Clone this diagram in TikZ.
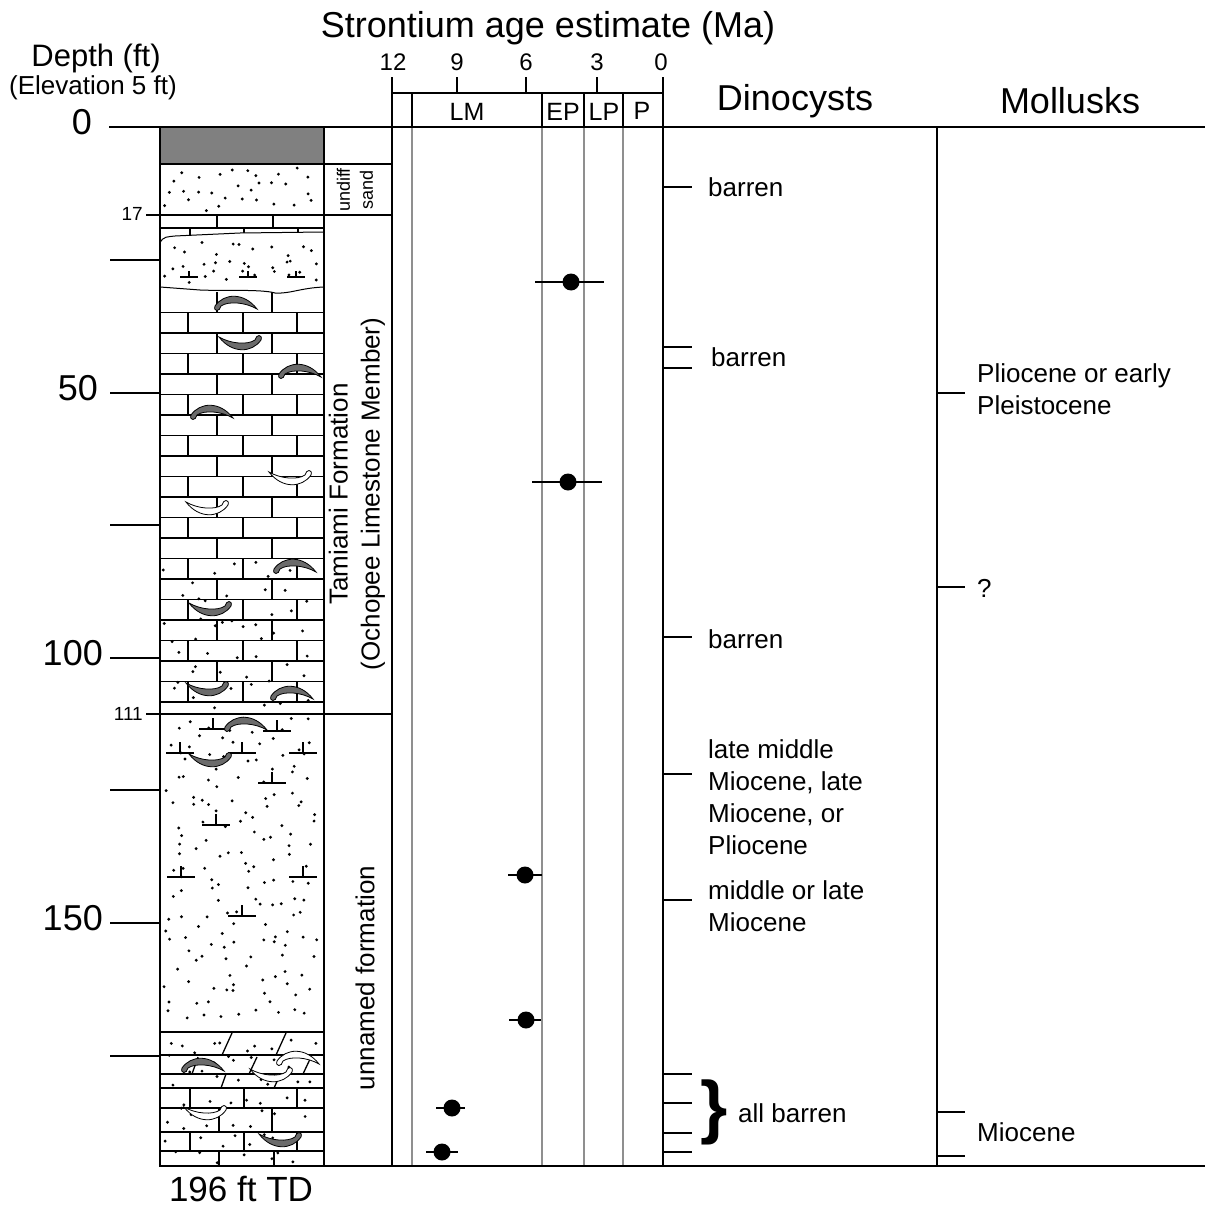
\documentclass[tikz,border=0pt]{standalone}
\usepackage{fontspec}
\setmainfont{Liberation Sans}
\usetikzlibrary{positioning, calc}

\definecolor{coregray}{gray}{0.5}
\definecolor{gridgray}{gray}{0.56}
\definecolor{shellgray}{gray}{0.42}

% crescent shell: x, y, rotation, fill
\newcommand{\shellmark}[4]{%
  \begin{scope}[shift={(#1,#2)}, rotate=#3]
    \filldraw[line width=0.8pt, fill=#4]
      (-21,4) .. controls (-12,-9) and (8,-10) .. (21,7)
      .. controls (9,0) and (-8,-1) .. (-15,4)
      .. controls (-16,10) and (-23,10) .. (-21,4) -- cycle;
  \end{scope}}

% sand dots, jittered grid: x0, y0, x1, y1, cell, seed
\newcommand{\sanddots}[6]{%
  \pgfmathsetseed{#6}%
  \pgfmathtruncatemacro{\ncol}{(#3-#1)/#5-1}%
  \pgfmathtruncatemacro{\nrow}{(#4-#2)/#5-1}%
  \foreach \gi in {0,...,\ncol}{%
    \foreach \gj in {0,...,\nrow}{%
      \pgfmathsetmacro{\dotx}{#1+#5*(\gi+rnd)}%
      \pgfmathsetmacro{\doty}{#2+#5*(\gj+rnd)}%
      \fill (\dotx,\doty) circle (1.6pt);}}}

% inverted-T mark: x, y, half width, stub
\newcommand{\tmark}[4]{%
  \draw (#1-#3,#2) -- (#1+#3,#2) (#1,#2) -- (#1,#2-#4);}

\begin{document}
\begin{tikzpicture}[
    x=1pt, y=-1pt,
    heavy/.style={line width=2.6pt, line cap=rect},
    brick/.style={line width=1.3pt},
    guide/.style={line width=2.2pt, draw=gridgray},
    axtick/.style={line width=2.4pt},
    srdot/.style={circle, fill=black, inner sep=0pt, minimum size=17pt},
    note/.style={inner sep=0pt, font=\fontsize{26}{32}\selectfont, align=left, anchor=west},
    head/.style={inner sep=0pt, font=\fontsize{36}{40}\selectfont},
    depthnum/.style={inner sep=0pt, font=\fontsize{36}{40}\selectfont, anchor=east},
    smallnum/.style={inner sep=0pt, font=\fontsize{19}{22}\selectfont, anchor=east},
    agenum/.style={inner sep=0pt, font=\fontsize{24}{28}\selectfont},
    epoch/.style={inner sep=0pt, font=\fontsize{25}{28}\selectfont},
    unit/.style={inner sep=0pt, rotate=90, align=center, font=\fontsize{26}{32}\selectfont}
]
    \useasboundingbox (0,0) rectangle (1204,1209);

    % Headings
    \node[head] (srtitle) at (548,28) {Strontium age estimate (Ma)};
    \node[inner sep=0pt, font=\fontsize{31}{34}\selectfont] (depthtitle) at (96,58) {Depth (ft)};
    \node[inner sep=0pt, font=\fontsize{26}{28}\selectfont] (elevation) at (93,88) {(Elevation 5 ft)};
    \node[head] (dinotitle) at (795,101) {Dinocysts};
    \node[head] (molltitle) at (1070,101) {Mollusks};

    % Depth labels
    \node[depthnum] (d0) at (92,122) {0};
    \node[depthnum] (d50) at (98,388) {50};
    \node[depthnum] (d100) at (103,653) {100};
    \node[depthnum] (d150) at (103,918) {150};
    \node[smallnum] (d17) at (143,214) {17};
    \node[smallnum] (d111) at (143,714) {111};
    \node[inner sep=0pt, font=\fontsize{35}{38}\selectfont] (td) at (241,1189) {196 ft TD};

    % Lithology: soil and sand
    \fill[coregray] (160,127) rectangle (324,164);
    \sanddots{164}{167}{320}{212}{15}{11}

    % Tamiami bricks, top rows
    \draw[brick] (160,228) -- (324,228);
    \foreach \jx in {217,273} {\draw[brick] (\jx,215) -- (\jx,228);}
    \foreach \jx in {190,244,298} {\draw[brick] (\jx,228) -- (\jx,240);}

    % Tamiami bricks, main body
    \foreach \i in {0,...,19}{
        \pgfmathsetmacro{\ya}{292+20.5*\i}
        \pgfmathsetmacro{\yb}{\ya+20.5}
        \draw[brick] (160,\yb) -- (324,\yb);
        \ifodd\i
            \foreach \jx in {188,243,297} {\draw[brick] (\jx,\ya) -- (\jx,\yb);}
        \else
            \foreach \jx in {217,272} {\draw[brick] (\jx,\ya) -- (\jx,\yb);}
        \fi
    }
    \sanddots{163}{562}{321}{712}{21}{23}

    % sandy lens
    \fill[white] (160,243) .. controls (163,236) and (168,237) .. (175,236) -- (240,233) -- (324,232)
        -- (324,287) .. controls (300,288) and (290,294) .. (275,293)
        .. controls (262,289) and (220,291) .. (200,290) -- (160,287) -- cycle;
    \draw[line width=1pt] (160,243) .. controls (163,236) and (168,237) .. (175,236) -- (240,233) -- (324,232);
    \draw[line width=1pt] (324,287) .. controls (300,288) and (290,294) .. (275,293)
        .. controls (262,289) and (220,291) .. (200,290) -- (160,287);
    \sanddots{164}{242}{320}{286}{14}{37}
    \begin{scope}[line width=1.4pt]
        \tmark{189}{277}{9}{6}
        \tmark{248}{277}{9}{6}
        \tmark{296}{277}{9}{6}
    \end{scope}

    % Unnamed formation: sand
    \sanddots{164}{717}{321}{1029}{17}{53}
    \begin{scope}[line width=2pt]
        \foreach \mx/\my in {213/729, 277/731, 180/753, 242/753, 303/753,
                             272/783, 216/825, 181/877, 303/877, 242/916}
            {\tmark{\mx}{\my}{14}{11}}
    \end{scope}

    % Unnamed formation: slanted bricks
    \draw[brick] (160,1055) -- (324,1055);
    \draw[brick] (160,1074) -- (324,1074);
    \draw[brick] (232,1033) -- (222,1055) (286,1033) -- (276,1055);
    \draw[brick] (198,1057) -- (192,1074) (257,1057) -- (249,1074) (311,1057) -- (303,1074);
    \draw[brick] (226,1074) -- (221,1088) (280,1075) -- (274,1088);
    \sanddots{164}{1035}{321}{1087}{17}{71}

    % Unnamed formation: bottom bricks
    \foreach \ya/\yb/\joints in {1088/1108/{190,244,297}, 1108/1132/{219,272},
                                 1132/1151/{190,244,297}, 1151/1166/{219,274}}{
        \draw[brick] (160,\yb) -- (324,\yb);
        \foreach \jx in \joints {\draw[brick] (\jx,\ya) -- (\jx,\yb);}
    }
    \sanddots{164}{1091}{321}{1165}{18}{89}

    % Shells
    \foreach \sx/\sy/\rot/\col in {236/302/0/shellgray, 240/344/180/shellgray, 300/370/0/shellgray,
        212/411/0/shellgray, 290/479/180/white, 207/509/180/white, 295/565/0/shellgray,
        210/610/180/shellgray, 207/690/180/shellgray, 292/692/0/shellgray, 246/723/0/shellgray,
        210/761/180/shellgray, 203/1064/0/shellgray, 298/1057/0/white, 271/1076/180/white,
        205/1114/180/white, 280/1141/180/shellgray}
        {\shellmark{\sx}{\sy}{\rot}{\col}}

    % Unit names
    \node[unit, font=\fontsize{18}{23}\selectfont] (undiff) at (355,190) {undiff\\sand};
    \node[unit] (tamiami) at (357,494) {Tamiami Formation\\(Ochopee Limestone Member)};
    \node[unit] (unnamed) at (365,978) {unnamed formation};

    % Age axis
    \foreach \px in {412,542,584,623}{
        \draw[heavy] (\px,93) -- (\px,127);
        \draw[guide] (\px,127) -- (\px,1166);
    }
    \draw[heavy] (392,93) -- (663,93);
    \foreach \ax in {457,526,597} {\draw[heavy] (\ax,78) -- (\ax,93);}
    \foreach \ax/\av in {393/12, 457/9, 526/6, 597/3, 661/0}
        {\node[agenum] (age\av) at (\ax,62) {\av};}
    \node[epoch] (lm) at (467,112) {LM};
    \node[epoch] (ep) at (563,112) {EP};
    \node[epoch] (lp) at (604,112) {LP};
    \node[epoch] (pl) at (642,111) {P};

    % Strontium ages
    \foreach \nm/\cx/\cy/\lo/\hi in {sr1/571/282/535/604, sr2/568/482/532/602,
        sr3/525/875/508/542, sr4/526/1020/509/541, sr5/452/1108/436/465, sr6/442/1152/426/458}{
        \coordinate (\nm lo) at (\lo,\cy);
        \coordinate (\nm hi) at (\hi,\cy);
        \draw[axtick] (\nm lo) -- (\nm hi);
        \node[srdot] (\nm) at (\cx,\cy) {};
    }

    % Frame
    \draw[heavy] (110,127) -- (1204,127);
    \draw[heavy] (160,1166) -- (1204,1166);
    \draw[heavy] (160,127) -- (160,1166);
    \draw[heavy] (324,127) -- (324,1166);
    \draw[heavy] (392,78) -- (392,1166);
    \draw[heavy] (663,78) -- (663,1166);
    \draw[heavy] (937,127) -- (937,1166);
    \draw[heavy] (160,164) -- (392,164);
    \draw[heavy] (147,215) -- (392,215);
    \draw[heavy] (147,714) -- (392,714);
    \draw[heavy] (160,1032) -- (324,1032);
    \draw[heavy] (160,1088) -- (324,1088);
    \foreach \ty in {260,393,525,658,790,923,1056} {\draw[axtick] (110,\ty) -- (160,\ty);}

    % Dinocysts
    \foreach \ty in {187,347,368,637,774,900,1074,1103,1133,1152} {\draw[axtick] (663,\ty) -- (692,\ty);}
    \node[note] (dino1) at (708,187) {barren};
    \node[note] (dino2) at (711,357) {barren};
    \node[note] (dino3) at (708,639) {barren};
    \node[note] (dino4) at (708,797) {late middle\\Miocene, late\\Miocene, or\\Pliocene};
    \node[note] (dino5) at (708,906) {middle or late\\Miocene};
    \node[inner sep=0pt, font=\fontsize{70}{70}\selectfont\bfseries] (brace) at (714,1112) {\}};
    \node[note] (dino6) at (738,1113) {all barren};

    % Mollusks
    \foreach \ty in {393,587,1112,1156} {\draw[axtick] (937,\ty) -- (965,\ty);}
    \node[note] (moll1) at (977,389) {Pliocene or early\\Pleistocene};
    \node[note] (moll2) at (977,588) {?};
    \node[note] (moll3) at (977,1132) {Miocene};

\end{tikzpicture}
\end{document}
